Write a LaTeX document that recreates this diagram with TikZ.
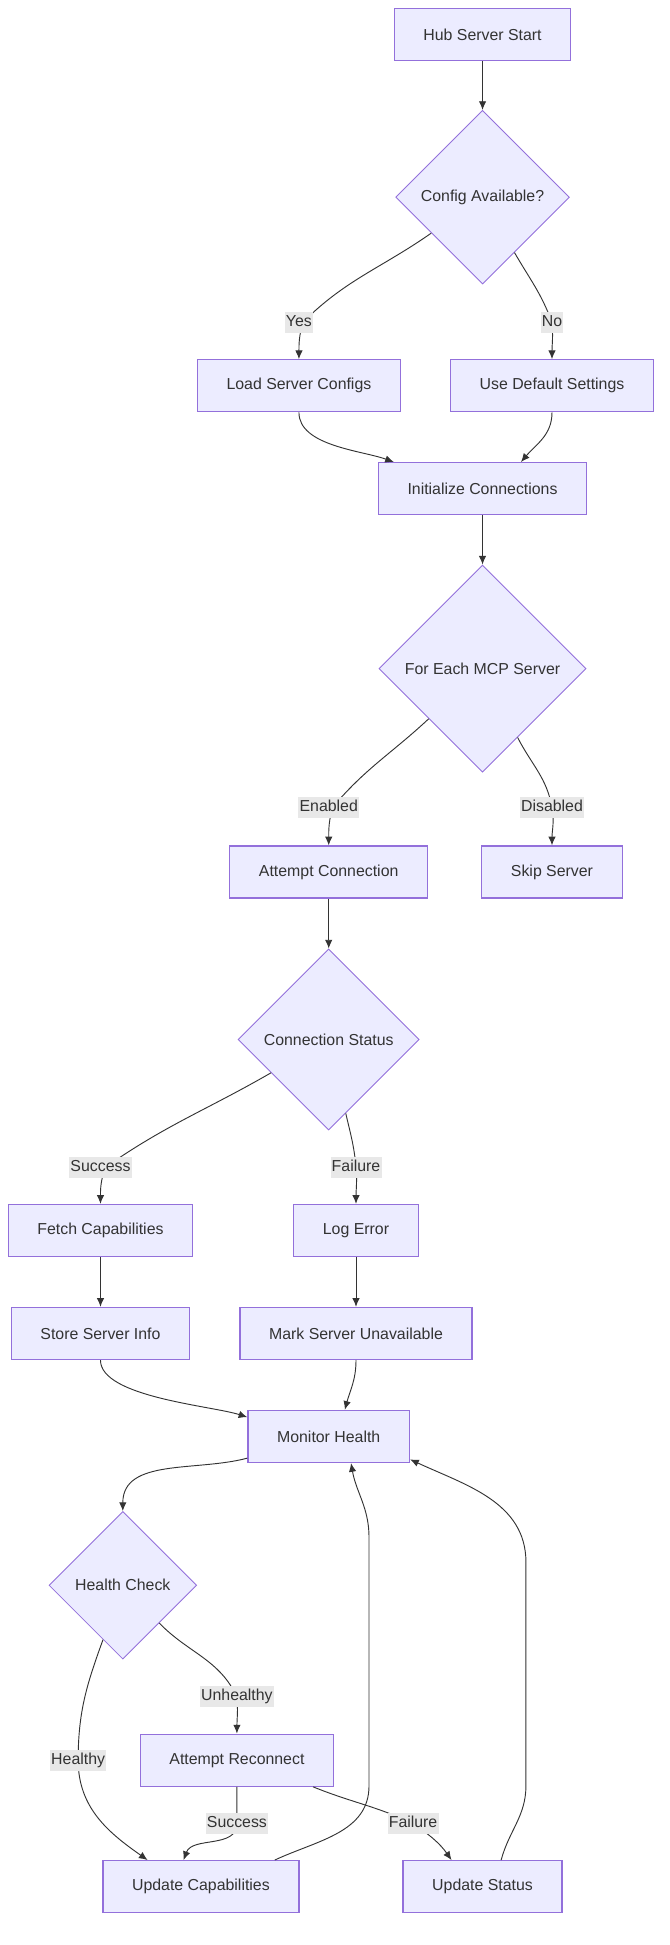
\documentclass[tikz,border=0pt]{standalone}
\usepackage{fontspec}
\setmainfont{Liberation Sans}
\usepackage{xcolor}
\usetikzlibrary{positioning,shapes.geometric,arrows.meta}
\definecolor{nodefill}{HTML}{ECECFF}
\definecolor{nodeline}{HTML}{9370DB}
\definecolor{ink}{HTML}{333333}
\definecolor{lblfill}{HTML}{E8E8E8}

\begin{document}
\begin{tikzpicture}[on grid, node distance={51pt}, line width=0.75pt, >={Latex[length=7pt,width=6pt]},
    font=\fontsize{12.8pt}{15pt}\selectfont, text=ink,
    main/.style = {draw=nodeline, fill=nodefill, line width=1pt, minimum height=42pt, inner xsep=23.5pt},
    cond/.style = {draw=nodeline, fill=nodefill, line width=0.7pt, diamond, inner sep=0pt, minimum size=#1},
    lbl/.style  = {fill=lblfill, inner xsep=1pt, inner ysep=2.5pt, text height=9.2pt, text depth=2.7pt},
    link/.style = {draw=ink, ->}]
    \useasboundingbox (0,0) rectangle (540pt,-1568pt);
    \node[main] (1) at (389pt,-28pt)               {Hub Server Start};
    \node[cond=140pt] (2) [below=131pt of 1]       {Config Available?};
    \node[main] (3) [below left=152pt and 148pt of 2]  {Load Server Configs};
    \node[main] (4) [below right=152pt and 56pt of 2]  {Use Default Settings};
    \node[main] (5) [below=235pt of 2]             {Initialize Connections};
    \node[cond=167pt] (6) [below=145pt of 5]       {For Each MCP Server};
    \node[main] (7) [below left=164pt and 124pt of 6]  {Attempt Connection};
    \node[main] (8) [below right=164pt and 56pt of 6]  {Skip Server};
    \node[cond=146pt] (9) [below=135pt of 7]       {Connection Status};
    \node[main] (10) [below left=154pt and 184pt of 9] {Fetch Capabilities};
    \node[main] (11) [below right=154pt and 22pt of 9] {Log Error};
    \node[main] (12) [below=83pt of 10]            {Store Server Info};
    \node[main] (13) [below=83pt of 11]            {Mark Server Unavailable};
    \node[main] (14) [below=320pt of 9]            {Monitor Health};
    \node[cond=119pt] (15) [below left=120pt and 166pt of 14] {Health Check};
    \node[main] (16) [below right=141pt and 92pt of 15] {Attempt Reconnect};
    \node[main] (17) [below left=102pt and 29pt of 16]  {Update Capabilities};
    \node[main] (18) [right=227pt of 17]           {Update Status};
    \coordinate[above=of 3, xshift=3pt] (a);
    \coordinate[above=of 4] (b);
    \coordinate[above=52pt of 7, xshift=3pt] (c);
    \coordinate[above=52pt of 8] (d);
    \coordinate[above=of 10, xshift=4pt] (e);
    \coordinate[above=of 11] (f);
    \coordinate[above=of 16] (g);
    \coordinate[below left=141pt and 36pt of 15] (h);
    \coordinate[below=of 16] (i);
    \coordinate[below right=51pt and 142pt of 16] (j);
    \draw[link] (1) -- (2);
    \draw[link] (2) to[out=215,in=45] (a) to[out=-105,in=90] (3);
    \draw[link] (2) to[out=-60,in=110] (b) to[out=-85,in=90] (4);
    \draw[link] (3) to[out=-90,in=160,looseness=0.8] ([xshift=13pt]5.north west);
    \draw[link] (4) to[out=-90,in=50] ([xshift=31pt]5.north);
    \draw[link] (5) -- (6);
    \draw[link] (6) to[out=223,in=50] (c) to[out=-105,in=90] (7);
    \draw[link] (6) to[out=-63,in=100] (d) to[out=-80,in=90] (8);
    \draw[link] (7) -- (9);
    \draw[link] (9) to[out=210,in=35] (e) to[out=-110,in=90] (10);
    \draw[link] (9) to[out=-77,in=95] (f) to[out=-85,in=90] (11);
    \draw[link] (10) -- (12);
    \draw[link] (11) -- (13);
    \draw[link] (12) to[out=-90,in=162,looseness=0.6] ([yshift=-6pt]14.north west);
    \draw[link] (13) to[out=-90,in=75] ([xshift=13pt]14.north);
    \draw[link] ([yshift=4pt]14.south west) to[out=195,in=90] (15);
    \draw[link] (15) to[out=-46,in=115] (g) to[out=-85,in=90] (16);
    \draw[link] (15) to[out=-110,in=90] (h) to[out=-90,in=145] ([xshift=-43pt]17.north);
    \draw[link] (16) to[out=-90,in=90] (i) to[out=-90,in=70] ([xshift=-14pt]17.north);
    \draw[link] ([xshift=-17pt]16.south east) to[out=-22,in=155] (j) to[out=-35,in=125] ([xshift=-25pt]18.north);
    \draw[link] ([xshift=-20pt]17.north east) to[out=25,in=-90] ++(76pt,60pt) -- ++(0,200pt) to[out=90,in=-80] ([xshift=18pt]14.south);
    \draw[link] ([xshift=15pt]18.north) to[out=75,in=-90] ++(20pt,60pt) -- ++(0,180pt) to[out=90,in=-25] ([yshift=3pt]14.south east);
    \node[lbl, xshift=-3pt] at (a) {Yes};
    \node[lbl] at (b) {No};
    \node[lbl, xshift=-3pt] at (c) {Enabled};
    \node[lbl] at (d) {Disabled};
    \node[lbl, xshift=-4pt] at (e) {Success};
    \node[lbl] at (f) {Failure};
    \node[lbl] at (g) {Unhealthy};
    \node[lbl] at (h) {Healthy};
    \node[lbl] at (i) {Success};
    \node[lbl] at (j) {Failure};
\end{tikzpicture}
\end{document}
